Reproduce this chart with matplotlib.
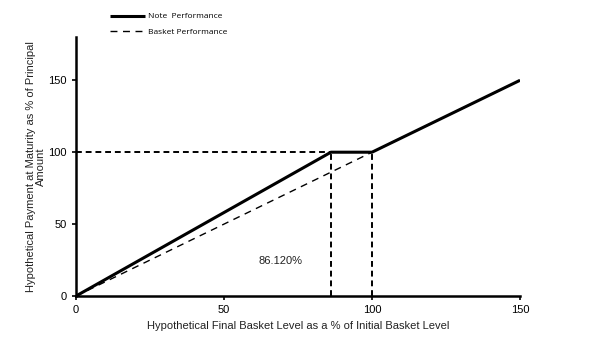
import numpy as np
import matplotlib.pyplot as plt

plt.rcParams['font.family'] = ['Liberation Sans', 'DejaVu Sans']

# payoff profile
basket_level = [0, 86.12, 100, 150]
note_payment = [0, 100, 100, 150]
basket_x = [0, 100, 150]
basket_y = [0, 100, 150]
threshold = 86.12
cap_level = 100
xticks = [0, 50, 100, 150]
yticks = [0, 50, 100, 150]

fig = plt.figure(figsize=(5.91, 3.44), dpi=100)
ax = fig.add_axes([0.1286, 0.1395, 0.7513, 0.7525])

ax.plot(basket_level, note_payment, color='black', lw=2.2, solid_capstyle='butt',
        label='Note  Performance')
ax.plot(basket_x, basket_y, color='black', lw=1.0, ls=(0, (5, 4)),
        label='Basket Performance')

# guide lines at the threshold and the cap
ax.plot([0, threshold], [cap_level, cap_level], color='black', lw=1.4, ls=(0, (3, 2)))
ax.plot([threshold, threshold], [0, cap_level], color='black', lw=1.4, ls=(0, (3, 2)))
ax.plot([cap_level, cap_level], [0, cap_level], color='black', lw=1.4, ls=(0, (3, 2)))

ax.text(69, 24, '%.3f%%' % threshold, fontsize=8, ha='center', va='center', color='#222222')

ax.set_xlim(0, 150)
ax.set_ylim(0, 180)
ax.set_xticks(xticks)
ax.set_yticks(yticks)
ax.tick_params(labelsize=8, length=3, width=1.2, direction='out', color='black')
for side in ['top', 'right']:
    ax.spines[side].set_visible(False)
for side in ['left', 'bottom']:
    ax.spines[side].set_linewidth(1.8)
ax.spines['bottom'].set_bounds(0, 150)

ax.set_xlabel('Hypothetical Final Basket Level as a % of Initial Basket Level', fontsize=8, color='#222222')
ax.set_ylabel('Hypothetical Payment at Maturity as % of Principal\nAmount', fontsize=8,
              color='#222222', linespacing=1.0, labelpad=2)

leg = fig.legend(loc='upper left', bbox_to_anchor=(0.173, 0.985), frameon=False,
                 prop={'family': 'Open Sans', 'size': 6},
                 handlelength=4.2, labelspacing=0.95, handletextpad=0.4)

fig.savefig('out.png', dpi=100)
